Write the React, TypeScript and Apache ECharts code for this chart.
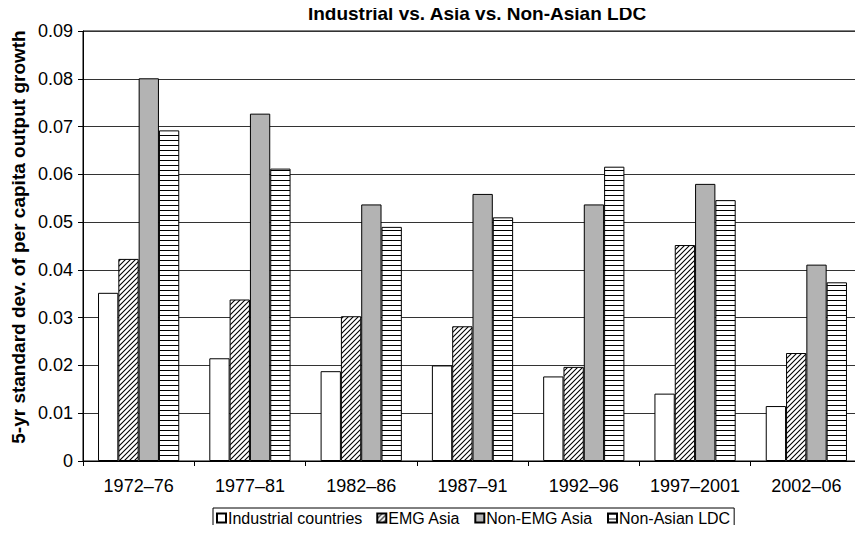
import React, { useEffect, useRef } from "react";
import * as echarts from "echarts";

const categories = ["1972–76", "1977–81", "1982–86", "1987–91", "1992–96", "1997–2001", "2002–06"];
const industrial = [0.0352, 0.0215, 0.0188, 0.0200, 0.0177, 0.0141, 0.0115];
const emgAsia = [0.0423, 0.0338, 0.0303, 0.0282, 0.0197, 0.0452, 0.0226];
const nonEmgAsia = [0.0801, 0.0727, 0.0537, 0.0559, 0.0537, 0.0580, 0.0411];
const nonAsianLdc = [0.0692, 0.0612, 0.0490, 0.0510, 0.0616, 0.0546, 0.0374];
const seriesNames = ["Industrial countries", "EMG Asia", "Non-EMG Asia", "Non-Asian LDC"];
const yAxisTitle = "5-yr standard dev. of per capita output growth";
const chartTitle = "Industrial vs. Asia vs. Non-Asian LDC";

function diagPattern() {
  const c = document.createElement("canvas");
  c.width = 5;
  c.height = 5;
  const ctx = c.getContext("2d")!;
  ctx.fillStyle = "#fff";
  ctx.fillRect(0, 0, 5, 5);
  ctx.strokeStyle = "#000";
  ctx.lineWidth = 1.1;
  ctx.beginPath();
  ctx.moveTo(-1, 6);
  ctx.lineTo(6, -1);
  ctx.moveTo(-1, 1);
  ctx.lineTo(1, -1);
  ctx.moveTo(4, 6);
  ctx.lineTo(6, 4);
  ctx.stroke();
  return c;
}

function horizPattern() {
  const c = document.createElement("canvas");
  c.width = 4;
  c.height = 5;
  const ctx = c.getContext("2d")!;
  ctx.fillStyle = "#fff";
  ctx.fillRect(0, 0, 4, 5);
  ctx.fillStyle = "#000";
  ctx.fillRect(0, 0, 4, 1);
  return c;
}

export default function App() {
  const ref = useRef<HTMLDivElement>(null);
  useEffect(() => {
    if (!ref.current) return;
    const chart = echarts.init(ref.current, undefined, { renderer: "svg" });
    const font = "Liberation Sans, Arial, sans-serif";
    const diag = { image: diagPattern(), repeat: "repeat" };
    const horiz = { image: horizPattern(), repeat: "repeat" };
    const fills: any[] = ["#ffffff", diag, "#b3b3b3", horiz];
    const datas = [industrial, emgAsia, nonEmgAsia, nonAsianLdc];
    chart.setOption({
      animation: false,
      backgroundColor: "#fff",
      textStyle: { fontFamily: font },
      title: {
        text: chartTitle,
        left: 472,
        textAlign: "center",
        top: -1,
        textStyle: { fontFamily: font, fontSize: 19, fontWeight: "bold", color: "#000" },
      },
      graphic: [
        {
          type: "text",
          x: 18,
          y: 237,
          rotation: Math.PI / 2,
          style: {
            text: yAxisTitle,
            fontFamily: font,
            fontSize: 19,
            fontWeight: "bold",
            fill: "#000",
            align: "center",
            verticalAlign: "middle",
          },
        },
      ],
      legend: {
        left: 213,
        top: 508,
        itemWidth: 9,
        itemHeight: 9,
        itemGap: 14,
        padding: [2, 4, 2, 3],
        borderColor: "#000",
        borderWidth: 1,
        borderRadius: 0,
        textStyle: { fontFamily: font, fontSize: 16, color: "#000", padding: [0, 0, 0, -3] },
        data: seriesNames.map((n) => ({ name: n, icon: "rect" })),
      },
      grid: {
        left: 83,
        top: 31,
        width: 779,
        height: 430,
        show: true,
        borderColor: "#000",
        borderWidth: 1,
        backgroundColor: "transparent",
      },
      xAxis: {
        type: "category",
        data: categories,
        axisLine: { lineStyle: { color: "#000", width: 1 } },
        axisTick: { show: true, interval: 0, length: 5, lineStyle: { color: "#000" } },
        axisLabel: { color: "#000", fontSize: 18, margin: 16, interval: 0, fontFamily: font },
      },
      yAxis: {
        type: "value",
        min: 0,
        max: 0.09,
        interval: 0.01,
        axisLine: { show: true, lineStyle: { color: "#000", width: 1 } },
        axisTick: { show: true, length: 5, lineStyle: { color: "#000" } },
        axisLabel: {
          color: "#000",
          fontSize: 18,
          margin: 10,
          fontFamily: font,
          formatter: (v: number) => (v === 0 ? "0" : v.toFixed(2)),
        },
        splitLine: { show: true, lineStyle: { color: "#333", width: 1 } },
      },
      series: datas.map((d, i) => ({
        name: seriesNames[i],
        type: "bar",
        data: d,
        barGap: "0%",
        barCategoryGap: "27%",
        itemStyle: { color: fills[i], borderColor: "#000", borderWidth: 1 },
        emphasis: { disabled: true },
      })),
    });
    return () => chart.dispose();
  }, []);
  return <div ref={ref} style={{ width: 863, height: 533, margin: -8 }} />;
}
